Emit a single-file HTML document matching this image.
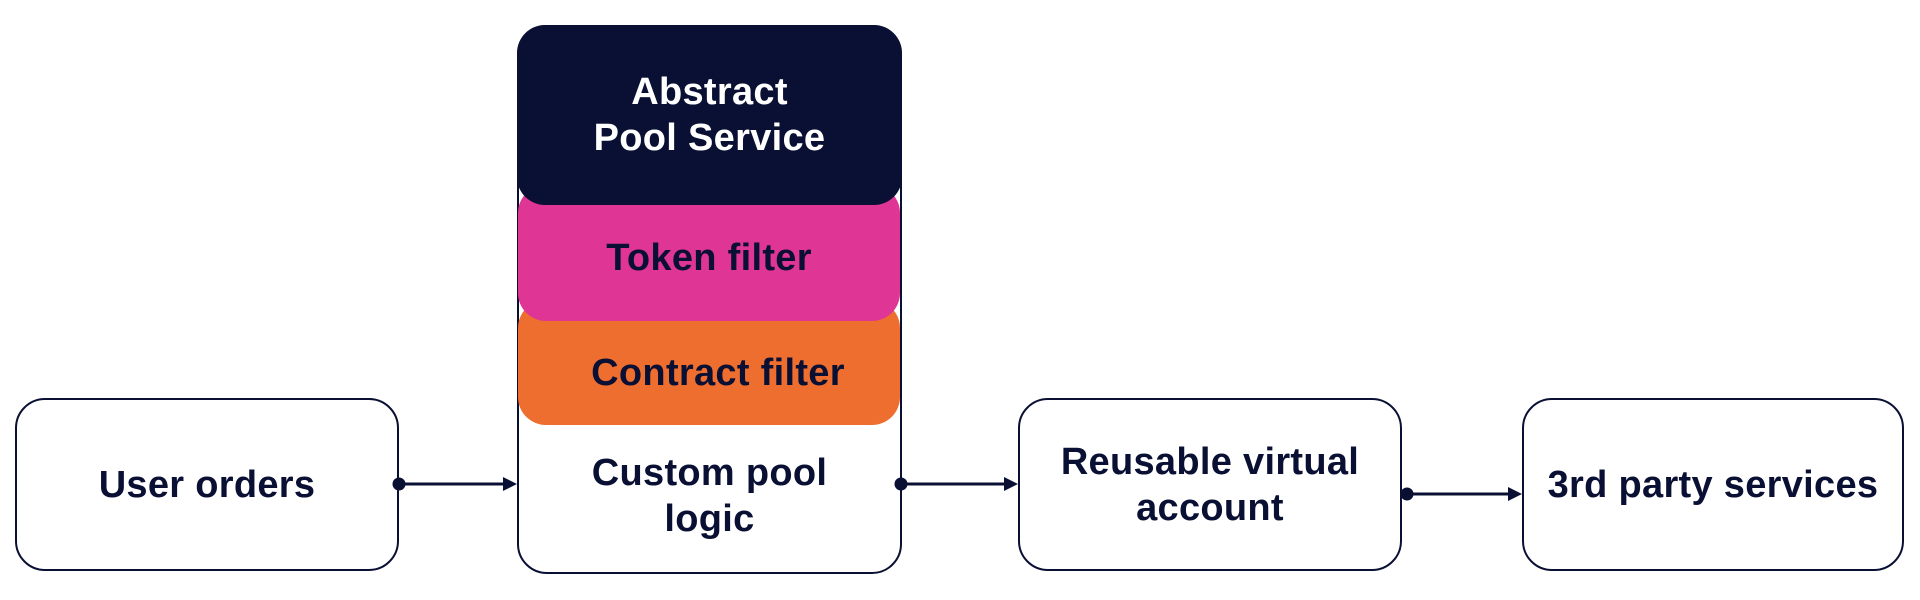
<!DOCTYPE html>
<html><head><meta charset="utf-8"><style>
html,body{margin:0;padding:0;background:#fff;}
body{width:1920px;height:600px;position:relative;overflow:hidden;font-family:"Liberation Sans",sans-serif;font-weight:bold;color:#0a1033;}
.box{position:absolute;box-sizing:border-box;border:2px solid #0a1033;border-radius:30px;background:#fff;display:flex;align-items:center;justify-content:center;text-align:center;font-size:38px;line-height:46px;letter-spacing:0.3px;}
.layer{position:absolute;left:518px;width:382px;border-radius:28px;display:flex;align-items:center;justify-content:center;text-align:center;font-size:38px;line-height:46px;letter-spacing:0.3px;}
</style></head><body>
<div class="box" style="left:15px;top:398px;width:384px;height:173px;">User orders</div>
<div class="box" style="left:517px;top:25px;width:385px;height:549px;align-items:flex-end;padding-bottom:30px;"><div>Custom pool<br>logic</div></div>
<div class="layer" style="top:300px;height:125px;background:#ed6e2f;padding-top:20px;box-sizing:border-box;"><span style="margin-left:18px">Contract filter</span></div>
<div class="layer" style="top:185px;height:136px;background:#df3594;padding-top:10px;box-sizing:border-box;">Token filter</div>
<div class="layer" style="top:25px;height:180px;background:#0a1033;color:#fff;left:517px;width:385px;">Abstract<br>Pool Service</div>
<div class="box" style="left:1018px;top:398px;width:384px;height:173px;">Reusable virtual<br>account</div>
<div class="box" style="left:1522px;top:398px;width:382px;height:173px;">3rd party services</div>
<svg width="1920" height="600" style="position:absolute;left:0;top:0" xmlns="http://www.w3.org/2000/svg">
<g fill="#0a1033" stroke="#0a1033" stroke-width="3">
<circle cx="399" cy="484" r="5"/><line x1="399" y1="484" x2="505" y2="484"/><polygon points="503,477 517,484 503,491" stroke="none"/>
<circle cx="901" cy="484" r="5"/><line x1="901" y1="484" x2="1006" y2="484"/><polygon points="1004,477 1018,484 1004,491" stroke="none"/>
<circle cx="1407" cy="494" r="5"/><line x1="1407" y1="494" x2="1510" y2="494"/><polygon points="1508,487 1522,494 1508,501" stroke="none"/>
</g></svg>
</body></html>
